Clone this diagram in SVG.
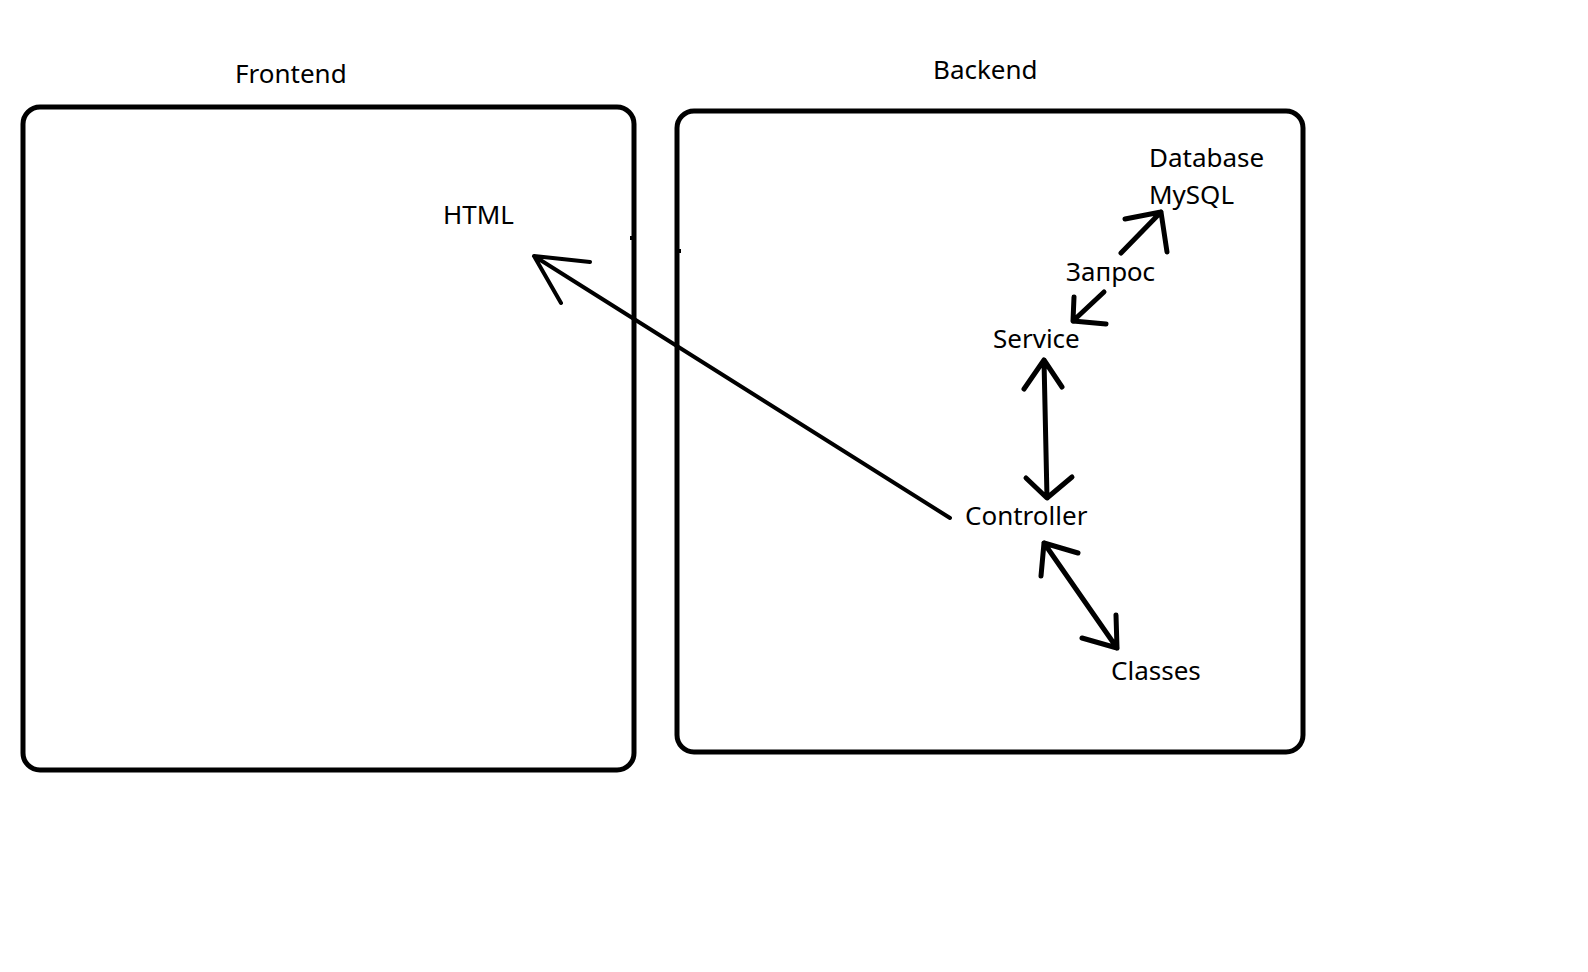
<svg xmlns="http://www.w3.org/2000/svg" width="1588" height="972" viewBox="0 0 1588 972">
<style>
.box{fill:none;stroke:#000;stroke-width:5}
.lbl{font-family:"Noto Sans","Open Sans","DejaVu Sans",sans-serif;font-size:26px;fill:#000}
.c{fill:none;stroke:#000;stroke-width:5;stroke-linecap:round;stroke-linejoin:round}
.t{fill:none;stroke:#000;stroke-width:4;stroke-linecap:round;stroke-linejoin:round}
</style>
<rect width="1588" height="972" fill="#fff"/>
<g id="frontend">
<rect class="box" x="23" y="107" width="611" height="663" rx="17"/>
<rect x="630" y="236" width="4" height="4" fill="#000"/>
<text class="lbl" x="235" y="83">Frontend</text>
</g>
<g id="backend">
<rect class="box" x="677" y="111" width="626" height="641" rx="17"/>
<rect x="677" y="249" width="4" height="4" fill="#000"/>
<text class="lbl" x="933" y="79">Backend</text>
</g>
<g id="html"><text class="lbl" x="443" y="224">HTML</text></g>
<g id="database"><text class="lbl" x="1149" y="167">Database</text><text class="lbl" x="1149" y="204">MySQL</text></g>
<g id="zapros"><text class="lbl" x="1066" y="281">Запрос</text></g>
<g id="service"><text class="lbl" x="993" y="348">Service</text></g>
<g id="controller"><text class="lbl" x="965" y="525">Controller</text></g>
<g id="classes"><text class="lbl" x="1111" y="680">Classes</text></g>
<g id="connectors">
<path class="t" d="M950 518 L534 256 M590 262 L534 256 L561 303"/>
<path class="c" d="M1121 253 L1161 212 M1125 219 L1161 212 L1167 252"/>
<path class="c" d="M1104 292 L1073 321 M1074 297 L1073 321 L1106 324"/>
<path class="c" d="M1044 360 L1047 498 M1024 389 L1044 360 L1062 387 M1026 478 L1047 498 L1072 477"/>
<path class="c" d="M1044 543 L1117 648 M1041 576 L1044 543 L1078 553 M1116 615 L1117 648 L1082 638"/>
</g>
</svg>
